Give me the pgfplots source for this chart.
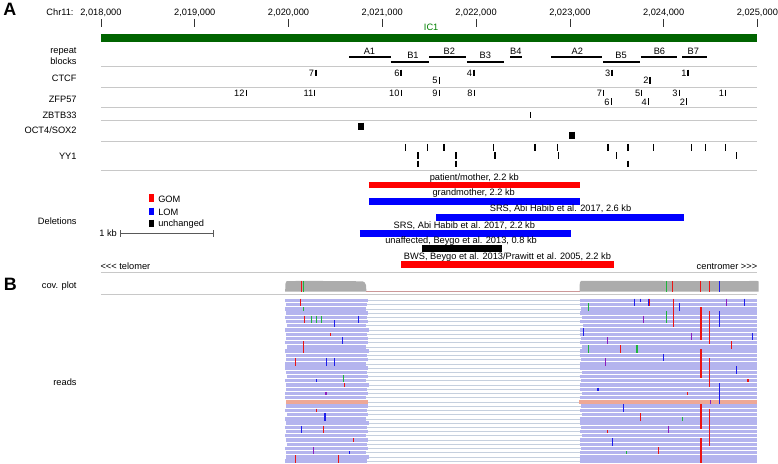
\documentclass[border=0pt]{standalone}
\usepackage{fontspec}
\setmainfont{Liberation Sans}[Ligatures=TeXOff]
\usepackage{pgfplots}
\usepackage{pgfplotstable}
\pgfplotsset{compat=1.18}
\definecolor{trk}{RGB}{200,200,200}
\definecolor{covgray}{RGB}{172,172,172}
\definecolor{readcol}{RGB}{180,180,238}
\definecolor{salmon}{RGB}{238,168,150}
\definecolor{linkcol}{RGB}{198,208,222}
\definecolor{icgreen}{RGB}{0,100,0}
\definecolor{ictext}{RGB}{0,128,0}
\definecolor{mmred}{RGB}{235,20,20}
\definecolor{mmblue}{RGB}{30,30,235}
\definecolor{mmgreen}{RGB}{30,180,60}
\definecolor{mmpurple}{RGB}{140,30,190}

% reads: row centre y, left read start/end, right read start/end (kb from 2,018,000)
\pgfplotstableread{
y ls le rs re
300.5 1.966 2.845 5.108 7.0
304.75 1.970 2.838 5.103 7.0
309 1.966 2.830 5.118 7.0
313.25 1.975 2.852 5.112 7.0
317.5 1.962 2.838 5.125 7.0
321.75 1.970 2.845 5.108 7.0
326 1.980 2.830 5.140 7.0
330.25 1.966 2.862 5.112 7.0
334.5 1.970 2.838 5.103 7.0
338.75 1.975 2.845 5.118 7.0
343 1.962 2.852 5.108 7.0
347.25 1.985 2.830 5.125 7.0
351.5 1.966 2.862 5.112 7.0
355.75 1.970 2.838 5.103 7.0
360 1.975 2.845 5.118 7.0
364.25 1.966 2.830 5.108 7.0
368.5 1.962 2.852 5.112 7.0
372.75 1.970 2.838 5.125 7.0
377 1.980 2.845 5.103 7.0
381.25 1.966 2.830 5.118 7.0
385.5 1.970 2.862 5.112 7.0
389.75 1.975 2.838 5.108 7.0
394 1.966 2.845 5.125 7.0
398.25 1.962 2.830 5.103 7.0
402.5 1.975 2.845 5.100 7.0
406.75 1.970 2.852 5.118 7.0
411 1.966 2.838 5.112 7.0
415.25 1.985 2.845 5.125 7.0
419.5 1.966 2.830 5.108 7.0
423.75 1.970 2.862 5.103 7.0
428 1.962 2.838 5.118 7.0
432.25 1.975 2.845 5.112 7.0
436.5 1.966 2.830 5.125 7.0
440.75 1.970 2.852 5.108 7.0
445 1.980 2.838 5.103 7.0
449.25 1.966 2.845 5.118 7.0
453.5 1.970 2.830 5.112 7.0
457.75 1.975 2.862 5.108 7.0
462 1.966 2.838 5.103 7.0
}\readtab

\newcommand{\numlab}[3]{\node[anchor=base east,xshift=-1.6pt,inner sep=0pt] at (axis cs:#1,#2) {#3};}
\newcommand{\leftlab}[2]{\node[anchor=base east,inner sep=0pt] at (axis cs:-0.258,#1) {#2};}

\begin{document}
\begin{tikzpicture}[font=\fontsize{9.3}{11}\selectfont]
\begin{axis}[width=778pt,height=464pt,scale only axis,
  xmin=-1.0435,xmax=7.2155,ymin=0,ymax=464,y dir=reverse,
  axis lines=none,clip=false]

% top ruler ticks
\addplot[quiver={u=0,v=\thisrow{v}},black!80,line width=0.7pt] table[x=x,y=y]{
x y v
0 18.3 7.5
1 18.3 7.5
2 18.3 7.5
3 18.3 7.5
4 18.3 7.5
5 18.3 7.5
6 18.3 7.5
7 18.3 7.5
};
% IC1 bar
\addplot[quiver={u=\thisrow{u},v=0},icgreen,line width=8pt] table[x=x,y=y]{
x y u
0 37 7
};
% track separators
\addplot[quiver={u=\thisrow{u},v=0},trk,line width=0.9pt] table[x=x,y=y]{
x y u
0 65.5 7
0 86.5 7
0 107.2 7
0 120 7
0 140.5 7
0 169.7 7
0 272.3 7
0 295 7
};
% repeat blocks
\addplot[quiver={u=\thisrow{xe}-\thisrow{x},v=0},black,line width=2.4pt] table[x=x,y=y]{
x xe y
2.648 3.089 56
3.089 3.497 61
3.503 3.893 56
3.903 4.299 61
4.363 4.495 56
4.803 5.344 56
5.355 5.751 61
5.758 6.140 56
6.200 6.465 56
};
% CTCF sites
\addplot[quiver={u=0,v=\thisrow{v}},black,line width=1.7pt] table[x=x,y=y]{
x y v
2.290 68.7 6.6
3.203 68.7 6.6
3.609 76.0 6.7
3.975 68.7 6.6
5.450 68.7 6.6
5.857 76.0 6.7
6.263 68.7 6.6
};
% ZFP57 sites
\addplot[quiver={u=0,v=\thisrow{v}},black,line width=1pt] table[x=x,y=y]{
x y v
1.550 88.7 6.8
2.282 88.7 6.8
3.203 88.7 6.8
3.609 88.7 6.8
3.981 88.7 6.8
5.361 88.7 6.8
5.443 97.5 6.8
5.769 88.7 6.8
5.839 97.5 6.8
6.168 88.7 6.8
6.246 97.5 6.8
6.664 88.7 6.8
};
% ZBTB33
\addplot[quiver={u=0,v=\thisrow{v}},black,line width=0.9pt] table[x=x,y=y]{
x y v
4.583 111.2 6.3
};
% OCT4/SOX2
\addplot[quiver={u=0,v=\thisrow{v}},black,line width=6pt] table[x=x,y=y]{
x y v
2.775 122 7.3
5.020 131 7
};
% YY1
\addplot[quiver={u=0,v=\thisrow{v}},black,line width=1.4pt] table[x=x,y=y]{
x y v
3.248 143.3 6.7
3.479 143.3 6.7
3.656 143.3 6.7
4.187 143.3 6.7
4.628 143.3 6.7
4.866 143.3 6.7
5.408 143.3 6.7
5.618 143.3 6.7
5.892 143.3 6.7
6.299 143.3 6.7
6.449 143.3 6.7
6.658 143.3 6.7
3.380 151.8 6.5
3.787 151.8 6.5
4.201 151.8 6.5
4.877 151.8 6.5
5.496 151.8 6.5
6.777 151.8 6.5
3.380 160 7
3.787 160 7
5.618 160 7
};
% deletions
\addplot[quiver={u=\thisrow{xe}-\thisrow{x},v=0},red,line width=6.7pt] table[x=x,y=y]{
x xe y
2.856 5.106 184.7
3.203 5.467 264.7
};
\addplot[quiver={u=\thisrow{xe}-\thisrow{x},v=0},blue,line width=6.7pt] table[x=x,y=y]{
x xe y
2.856 5.106 201.3
3.574 6.218 217.3
2.760 5.008 233.3
};
\addplot[quiver={u=\thisrow{xe}-\thisrow{x},v=0},black,line width=6.7pt] table[x=x,y=y]{
x xe y
3.423 4.275 248.7
};
% legend squares
\addplot[quiver={u=0,v=\thisrow{v}},red,line width=5pt] table[x=x,y=y]{
x y v
0.540 194 7.7
};
\addplot[quiver={u=0,v=\thisrow{v}},blue,line width=5pt] table[x=x,y=y]{
x y v
0.540 207.3 7
};
\addplot[quiver={u=0,v=\thisrow{v}},black,line width=5pt] table[x=x,y=y]{
x y v
0.540 219.3 7.4
};
% 1 kb scale bar
\addplot[quiver={u=\thisrow{u},v=\thisrow{v}},black!65,line width=0.8pt] table[x=x,y=y]{
x y u v
0.212 233.3 0.984 0
0.212 230 0 7
1.196 230 0 7
};
% coverage
\addplot[fill=covgray,draw=none] coordinates {(1.964,291.7) (1.968,283.5) (1.980,281.2) (2.200,280.8) (2.500,281.2) (2.790,281.3) (2.812,282.5) (2.826,285) (2.831,291.7)} -- cycle;
\addplot[fill=covgray,draw=none] coordinates {(5.103,291.7) (5.106,283) (5.118,281) (5.600,280.8) (6.300,281.2) (7.000,281) (7.014,281.5) (7.014,291.7)} -- cycle;
\addplot[red!35!gray!60,line width=0.5pt] coordinates {(2.831,291.4) (5.103,291.4)};
\addplot[quiver={u=0,v=\thisrow{v}},mmred,line width=1.2pt] table[x=x,y=y]{
x y v
2.140 281 10.7
6.098 281 10.7
6.395 281 10.7
6.486 281 10.7
};
\addplot[quiver={u=0,v=\thisrow{v}},mmgreen,line width=1.2pt] table[x=x,y=y]{
x y v
2.159 281 10.7
6.027 281 10.7
};
\addplot[quiver={u=0,v=\thisrow{v}},mmblue,line width=1.2pt] table[x=x,y=y]{
x y v
6.592 281 10.7
};
% reads: links, blocks
\addplot[quiver={u=\thisrow{rs}-\thisrow{le},v=0},linkcol,line width=0.7pt] table[x=le,y=y]\readtab;
\addplot[quiver={u=\thisrow{le}-\thisrow{ls},v=0},readcol,line width=3.4pt] table[x=ls,y=y]\readtab;
\addplot[quiver={u=\thisrow{re}-\thisrow{rs},v=0},readcol,line width=3.4pt] table[x=rs,y=y]\readtab;
\addplot[quiver={u=\thisrow{xe}-\thisrow{x},v=0},salmon,line width=3.4pt] table[x=x,y=y]{
x xe y
1.975 2.845 402.5
5.100 7.0 402.5
};
% mismatches
\addplot[quiver={u=0,v=\thisrow{v}},mmred,line width=1.1pt] table[x=x,y=y]{
x y v
2.126 298.8 7.65
2.170 315.8 7.65
2.159 341.3 11.9
2.070 358.3 7.65
2.371 426.3 7.65
2.070 456.05 7.65
2.531 456.05 7.65
2.450 332.8 3.4
2.600 383.8 3.4
2.300 409.3 3.4
2.690 439.05 3.4
6.104 298.8 28.9
5.849 298.8 7.65
6.398 307.3 33.15
6.398 349.8 28.9
6.398 405.05 24.65
6.398 439.05 24.65
6.486 311.55 33.15
6.486 358.3 28.9
6.486 409.3 37.4
5.538 345.55 7.65
5.751 413.55 7.65
5.400 430.55 3.4
6.720 341.3 7.65
6.900 379.55 3.4
5.950 447.55 7.65
6.250 392.3 3.4
};
\addplot[quiver={u=0,v=\thisrow{v}},mmblue,line width=1.1pt] table[x=x,y=y]{
x y v
2.495 320.05 7.65
2.743 315.8 7.65
2.407 358.3 7.65
2.492 358.3 7.65
2.389 413.55 7.65
2.141 426.3 7.65
2.654 451.8 3.4
2.300 379.55 3.4
2.580 337.05 7.65
5.687 298.8 7.65
5.758 298.8 3.4
6.168 303.05 7.65
6.865 298.8 7.65
5.149 328.55 7.65
6.592 311.55 16.15
6.592 383.8 20.4
5.839 298.8 7.65
5.573 405.05 7.65
5.450 439.05 7.65
6.000 354.05 7.65
6.780 366.8 7.65
6.950 332.8 7.65
5.300 388.05 3.4
};
\addplot[quiver={u=0,v=\thisrow{v}},mmgreen,line width=1.1pt] table[x=x,y=y]{
x y v
2.248 315.8 7.65
2.301 315.8 7.65
2.354 315.8 7.65
2.584 375.3 7.65
2.159 307.3 3.4
5.202 303.05 7.65
5.202 345.55 7.65
5.716 345.55 7.65
6.027 311.55 11.9
6.200 417.8 3.4
5.600 451.8 3.4
};
\addplot[quiver={u=0,v=\thisrow{v}},mmpurple,line width=1.1pt] table[x=x,y=y]{
x y v
2.265 447.55 7.65
2.400 392.3 3.4
6.671 298.8 7.65
5.786 315.8 7.65
6.299 332.8 7.65
5.397 337.05 7.65
5.379 358.3 7.65
6.500 400.8 3.4
6.050 426.3 7.65
};

% ---- text ----
\node[font=\fontsize{18}{18}\bfseries\selectfont] at (axis cs:-0.972,8.3) {A};
\node[font=\fontsize{18}{18}\bfseries\selectfont] at (axis cs:-0.967,284) {B};
\node[anchor=base east,inner sep=0pt] at (axis cs:-0.290,14) {Chr11:};
\node[anchor=base,inner sep=0pt] at (axis cs:0,14) {2,018,000};
\node[anchor=base,inner sep=0pt] at (axis cs:1,14) {2,019,000};
\node[anchor=base,inner sep=0pt] at (axis cs:2,14) {2,020,000};
\node[anchor=base,inner sep=0pt] at (axis cs:3,14) {2,021,000};
\node[anchor=base,inner sep=0pt] at (axis cs:4,14) {2,022,000};
\node[anchor=base,inner sep=0pt] at (axis cs:5,14) {2,023,000};
\node[anchor=base,inner sep=0pt] at (axis cs:6,14) {2,024,000};
\node[anchor=base,inner sep=0pt] at (axis cs:7,14) {2,025,000};
\node[anchor=base,inner sep=0pt,text=ictext] at (axis cs:3.521,29.3) {IC1};
% repeat labels
\node[anchor=base,inner sep=0pt] at (axis cs:2.863,53.3) {A1};
\node[anchor=base,inner sep=0pt] at (axis cs:3.327,58) {B1};
\node[anchor=base,inner sep=0pt] at (axis cs:3.715,53.3) {B2};
\node[anchor=base,inner sep=0pt] at (axis cs:4.098,58) {B3};
\node[anchor=base,inner sep=0pt] at (axis cs:4.424,53.3) {B4};
\node[anchor=base,inner sep=0pt] at (axis cs:5.079,53.3) {A2};
\node[anchor=base,inner sep=0pt] at (axis cs:5.546,58) {B5};
\node[anchor=base,inner sep=0pt] at (axis cs:5.955,53.3) {B6};
\node[anchor=base,inner sep=0pt] at (axis cs:6.316,53.3) {B7};
% track names
\leftlab{52.5}{repeat}
\leftlab{64}{blocks}
\leftlab{80.7}{CTCF}
\leftlab{101.7}{ZFP57}
\leftlab{117.7}{ZBTB33}
\leftlab{133.3}{OCT4/SOX2}
\leftlab{159}{YY1}
\leftlab{224.7}{Deletions}
\leftlab{289}{cov. plot}
\leftlab{385.5}{reads}
% CTCF numbers
\numlab{2.290}{75.3}{7}
\numlab{3.203}{75.3}{6}
\numlab{3.609}{82.7}{5}
\numlab{3.975}{75.3}{4}
\numlab{5.450}{75.3}{3}
\numlab{5.857}{82.7}{2}
\numlab{6.263}{75.3}{1}
% ZFP57 numbers
\numlab{1.550}{95.3}{12}
\numlab{2.282}{95.3}{11}
\numlab{3.203}{95.3}{10}
\numlab{3.609}{95.3}{9}
\numlab{3.981}{95.3}{8}
\numlab{5.361}{95.3}{7}
\numlab{5.443}{104.3}{6}
\numlab{5.769}{95.3}{5}
\numlab{5.839}{104.3}{4}
\numlab{6.168}{95.3}{3}
\numlab{6.246}{104.3}{2}
\numlab{6.664}{95.3}{1}
% legend and scale
\node[anchor=base west,inner sep=0pt] at (axis cs:0.609,201.7) {GOM};
\node[anchor=base west,inner sep=0pt] at (axis cs:0.609,215) {LOM};
\node[anchor=base west,inner sep=0pt] at (axis cs:0.609,226.7) {unchanged};
\node[anchor=base east,inner sep=0pt] at (axis cs:0.172,236.7) {1 kb};
% deletion labels
\node[anchor=base,inner sep=0pt] at (axis cs:3.981,179.6) {patient/mother, 2.2 kb};
\node[anchor=base,inner sep=0pt] at (axis cs:3.975,195.3) {grandmother, 2.2 kb};
\node[anchor=base,inner sep=0pt] at (axis cs:4.901,211.7) {SRS, Abi Habib et al. 2017, 2.6 kb};
\node[anchor=base,inner sep=0pt] at (axis cs:3.875,227.8) {SRS, Abi Habib et al. 2017, 2.2 kb};
\node[anchor=base,inner sep=0pt] at (axis cs:3.840,243.8) {unaffected, Beygo et al. 2013, 0.8 kb};
\node[anchor=base,inner sep=0pt] at (axis cs:4.335,259.5) {BWS, Beygo et al. 2013/Prawitt et al. 2005, 2.2 kb};
\node[anchor=base west,inner sep=0pt] at (axis cs:-0.006,269.3) {<<< telomer};
\node[anchor=base east,inner sep=0pt] at (axis cs:7.0,269.3) {centromer >>>};
\end{axis}
\path (current axis.south west) rectangle (current axis.north east);
\end{tikzpicture}
\end{document}
